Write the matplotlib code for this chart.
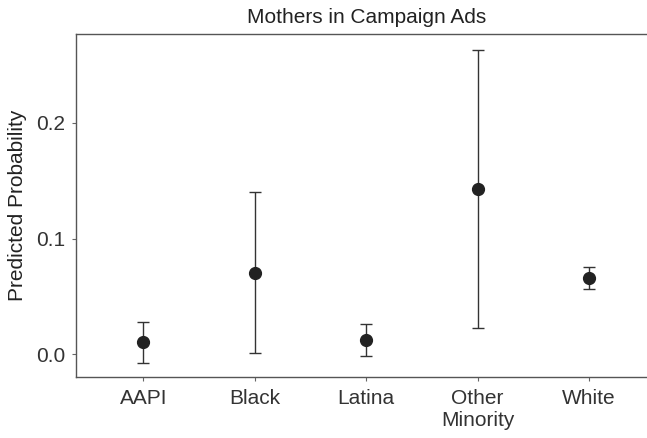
import matplotlib
matplotlib.use("Agg")
import matplotlib.pyplot as plt

groups = ["AAPI", "Black", "Latina", "Other\nMinority", "White"]
estimate = [0.0104, 0.0704, 0.0123, 0.1427, 0.0656]
lower = [-0.0073, 0.0008, -0.0012, 0.0230, 0.0561]
upper = [0.0276, 0.1400, 0.0259, 0.2625, 0.0751]

plt.rcParams["font.family"] = ["Liberation Sans", "DejaVu Sans"]

fig = plt.figure(figsize=(6.47, 4.38), dpi=100)
ax = fig.add_axes([0.118, 0.140, 0.896, 0.7815])

x = list(range(1, len(groups) + 1))
yerr = [[e - lo for e, lo in zip(estimate, lower)],
        [hi - e for e, hi in zip(estimate, upper)]]
ax.errorbar(x, estimate, yerr=yerr, fmt="o", color="#222222", ecolor="#333333",
            elinewidth=1.0, capsize=4.5, capthick=1.0, markersize=8.5)

ax.set_xlim(0.4, 5.6)
ax.set_ylim(-0.0193, 0.2763)
ax.set_xticks(x)
ax.set_xticklabels(groups, linespacing=1.2)
ax.set_yticks([0.0, 0.1, 0.2])
ax.set_yticklabels(["0.0", "0.1", "0.2"])
ax.tick_params(labelsize=15, colors="#333333", length=3, width=0.8, color="#666666")
ax.tick_params(axis="x", pad=6)
ax.tick_params(axis="y", pad=5)
for s in ax.spines.values():
    s.set_color("#555555")
    s.set_linewidth(1.0)

ax.set_ylabel("Predicted Probability", fontsize=15, color="#222222", labelpad=6.5)
ax.set_title("Mothers in Campaign Ads", fontsize=15, color="#222222", pad=8)

fig.savefig("out.png", dpi=100)
